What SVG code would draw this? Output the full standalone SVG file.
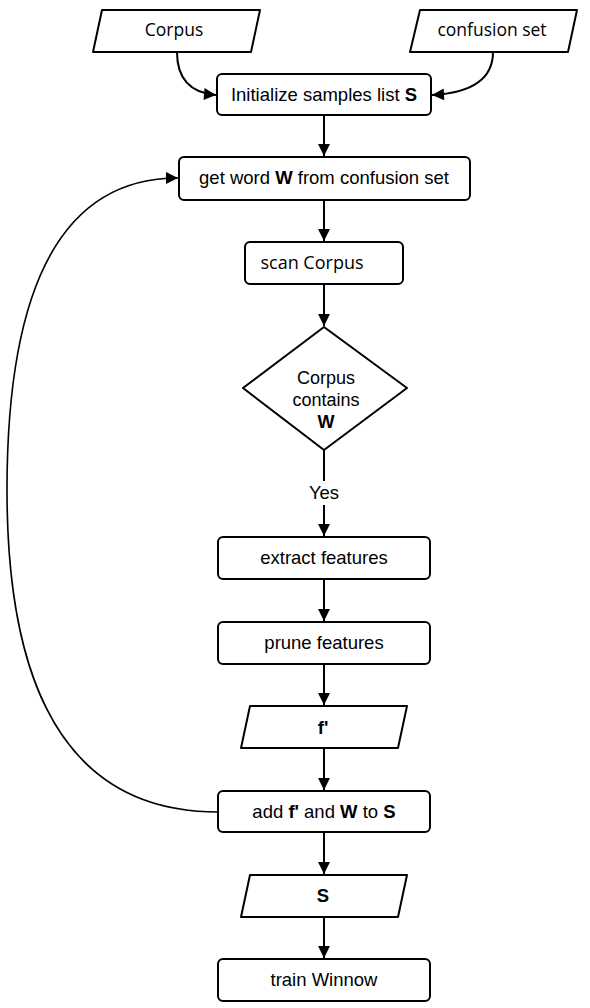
<svg xmlns="http://www.w3.org/2000/svg" width="590" height="1008" viewBox="0 0 590 1008">
<style>
.n{fill:#fff;stroke:#000;stroke-width:2;stroke-linejoin:round}
.t{font-family:"Liberation Sans",Arial,sans-serif;font-size:18.5px;fill:#000;text-anchor:middle}
.o{font-family:"Open Sans","Liberation Sans",sans-serif;font-size:17.5px;fill:#000;text-anchor:middle}
.c{fill:none;stroke:#000;stroke-width:2}
b,.b{font-weight:bold}
</style>
<defs>
<marker id="a" viewBox="0 0 10 10" refX="10" refY="5" markerWidth="10" markerHeight="10" markerUnits="userSpaceOnUse" orient="auto">
<path d="M0,0 L10,5 L0,10 Z" fill="#000"/>
</marker>
<marker id="a2" viewBox="0 0 10 10" refX="10" refY="5" markerWidth="14" markerHeight="12" markerUnits="userSpaceOnUse" orient="auto">
<path d="M0,0 L10,5 L0,10 Z" fill="#000"/>
</marker>
</defs>
<g id="connectors">
<path class="c" d="M177,52 C177,80 192,93 216,95" marker-end="url(#a2)"/>
<path class="c" d="M493,52 C493,80 470,93 432,95" marker-end="url(#a2)"/>
<path class="c" d="M324,115 L324,156" marker-end="url(#a2)"/>
<path class="c" d="M324,200 L324,241" marker-end="url(#a2)"/>
<path class="c" d="M324,284 L324,326" marker-end="url(#a2)"/>
<path class="c" d="M324,450 L324,481"/>
<path class="c" d="M324,505 L324,536" marker-end="url(#a2)"/>
<path class="c" d="M324,579 L324,621" marker-end="url(#a2)"/>
<path class="c" d="M324,664 L324,705" marker-end="url(#a2)"/>
<path class="c" d="M324,748 L324,790" marker-end="url(#a2)"/>
<path class="c" d="M324,832 L324,874" marker-end="url(#a2)"/>
<path class="c" d="M324,917 L324,958" marker-end="url(#a2)"/>
<path class="c" style="stroke-width:1.6" d="M218,812 C40,812 7,640 7,490 C7,320 45,178 178,178" marker-end="url(#a2)"/>
<text class="t" x="324" y="499">Yes</text>
</g>
<g id="corpus">
<path class="n" d="M102,10 L260,10 L251,52 L93,52 Z"/>
<text class="o" x="174" y="36">Corpus</text>
</g>
<g id="confusion">
<path class="n" d="M420,10 L577,10 L568,52 L410,52 Z"/>
<text class="o" x="492" y="36">confusion set</text>
</g>
<g id="init">
<rect class="n" x="217" y="74" width="214" height="41" rx="5"/>
<text class="t" x="324" y="101">Initialize samples list <tspan class="b">S</tspan></text>
</g>
<g id="getword">
<rect class="n" x="179" y="157" width="291" height="43" rx="5"/>
<text class="t" x="324" y="184">get word <tspan class="b">W</tspan> from confusion set</text>
</g>
<g id="scan">
<rect class="n" x="245" y="242" width="158" height="42" rx="5"/>
<text class="o" x="312" y="269" style="font-size:18px">scan Corpus</text>
</g>
<g id="decision">
<path class="n" d="M324,327 L407,388 L324,450 L243,388 Z"/>
<text class="t" x="326" y="384" style="font-size:18px">Corpus</text>
<text class="t" x="326" y="406" style="font-size:18px">contains</text>
<text class="t b" x="326" y="428" style="font-size:18px">W</text>
</g>
<g id="extract">
<rect class="n" x="218" y="537" width="212" height="42" rx="5"/>
<text class="t" x="324" y="564">extract features</text>
</g>
<g id="prune">
<rect class="n" x="218" y="622" width="212" height="42" rx="5"/>
<text class="t" x="324" y="649">prune features</text>
</g>
<g id="fprime">
<path class="n" d="M250,706 L407,706 L398,748 L241,748 Z"/>
<text class="t b" x="323" y="734">f'</text>
</g>
<g id="add">
<rect class="n" x="218" y="791" width="212" height="41" rx="5"/>
<text class="t" x="324" y="818">add <tspan class="b">f'</tspan> and <tspan class="b">W</tspan> to <tspan class="b">S</tspan></text>
</g>
<g id="s">
<path class="n" d="M250,875 L407,875 L398,917 L241,917 Z"/>
<text class="t b" x="323" y="902">S</text>
</g>
<g id="train">
<rect class="n" x="218" y="959" width="212" height="42" rx="5"/>
<text class="t" x="324" y="986">train Winnow</text>
</g>
</svg>
